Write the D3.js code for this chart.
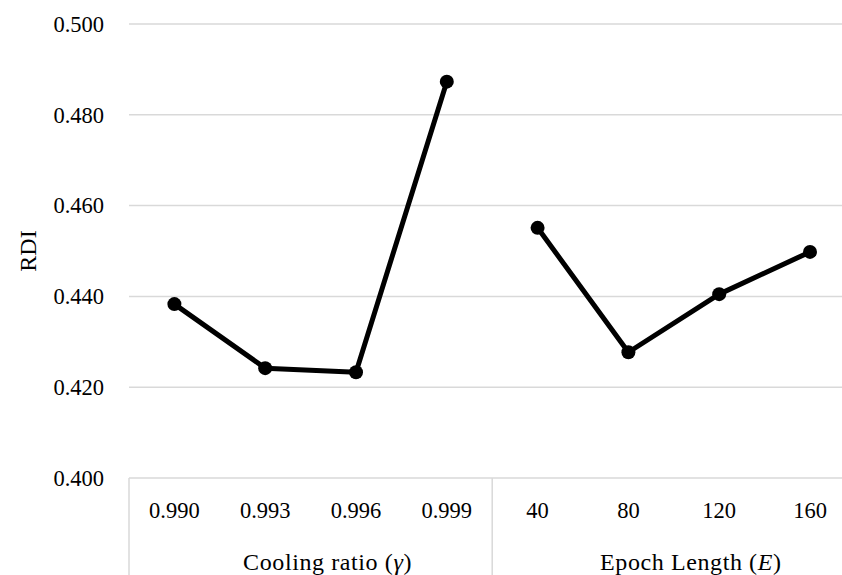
<!DOCTYPE html>
<html><head><meta charset="utf-8">
<script src="https://cdn.jsdelivr.net/npm/d3@7"></script>
<style>
html,body{margin:0;padding:0;background:#fff;overflow:hidden}
text{font-family:"Liberation Serif","Times New Roman",serif;fill:#000}
</style></head>
<body><svg id="c" width="842" height="575"></svg>
<script>
const categories = ["0.990","0.993","0.996","0.999","40","80","120","160"];
const groups = ["Cooling ratio","Epoch Length"];
const groupSymbols = ["γ","E"];
const groupSizes = [4,4];
const rdiCooling = [0.4383,0.4242,0.4233,0.4873];
const rdiEpoch = [0.4551,0.4277,0.4405,0.4498];
const yTicks = [0.400,0.420,0.440,0.460,0.480,0.500];
const yLabel = "RDI";

const svg = d3.select("#c");
const mLeft = 129, mTop = 24, mBottom = 478, bw = 90.8;
const x = d3.scaleBand().domain(categories).range([mLeft, mLeft + bw*categories.length]).padding(0);
const y = d3.scaleLinear().domain([0.400,0.500]).range([mBottom, mTop]);
const grid = "#d9d9d9";

// gridlines
svg.append("g").selectAll("line").data(yTicks).join("line")
  .attr("x1", mLeft).attr("x2", x.range()[1])
  .attr("y1", d=>y(d)).attr("y2", d=>y(d))
  .attr("stroke", grid).attr("stroke-width", 1.5);

// y axis labels
const yAxis = d3.axisLeft(y).tickValues(yTicks).tickFormat(d3.format(".3f")).tickSize(0).tickPadding(25);
const ga = svg.append("g").attr("transform", `translate(${mLeft},0)`).call(yAxis);
ga.select(".domain").remove();
ga.selectAll("text").attr("font-size", 22.5).style("font-family","'Liberation Serif',serif").attr("fill","#000");

// y title
svg.append("text").attr("transform", `translate(36,251) rotate(-90)`)
  .attr("text-anchor","middle").attr("font-size",24).text(yLabel);

// category axis
const xa = d3.axisBottom(x).tickSize(0).tickPadding(24);
const gx = svg.append("g").attr("transform", `translate(0,${mBottom})`).call(xa);
gx.select(".domain").remove();
gx.selectAll("text").attr("font-size", 22.5).style("font-family","'Liberation Serif',serif").attr("fill","#000");

// box lines
svg.append("line").attr("x1",mLeft).attr("x2",mLeft).attr("y1",mBottom).attr("y2",575).attr("stroke",grid).attr("stroke-width",1.5);
let acc = 0;
groupSizes.forEach((n,i)=>{
  acc += n;
  if (i < groupSizes.length-1) {
    const xs = x(categories[acc-1]) + x.bandwidth();
    svg.append("line").attr("x1",xs).attr("x2",xs).attr("y1",mBottom).attr("y2",575).attr("stroke",grid).attr("stroke-width",1.5);
  }
});

// group labels
acc = 0;
groupSizes.forEach((n,i)=>{
  const x0 = x(categories[acc]); const x1 = x(categories[acc+n-1]) + x.bandwidth();
  acc += n;
  const t = svg.append("text").attr("x",(x0+x1)/2 + 17).attr("y",570).attr("text-anchor","middle")
    .attr("font-size",24).attr("letter-spacing",0.6);
  t.append("tspan").text(groups[i] + " (");
  t.append("tspan").attr("font-style","italic").text(groupSymbols[i]);
  t.append("tspan").text(")");
});

// series
const series = [
  {cats: categories.slice(0,4), vals: rdiCooling},
  {cats: categories.slice(4), vals: rdiEpoch}
];
const line = d3.line().x(d=>x(d[0])+x.bandwidth()/2).y(d=>y(d[1]));
series.forEach(s=>{
  const pts = s.cats.map((c,i)=>[c,s.vals[i]]);
  svg.append("path").datum(pts).attr("d",line).attr("fill","none").attr("stroke","#000").attr("stroke-width",5).attr("stroke-linejoin","round");
  svg.append("g").selectAll("circle").data(pts).join("circle")
    .attr("cx",d=>x(d[0])+x.bandwidth()/2).attr("cy",d=>y(d[1])).attr("r",7).attr("fill","#000");
});
</script></body></html>
